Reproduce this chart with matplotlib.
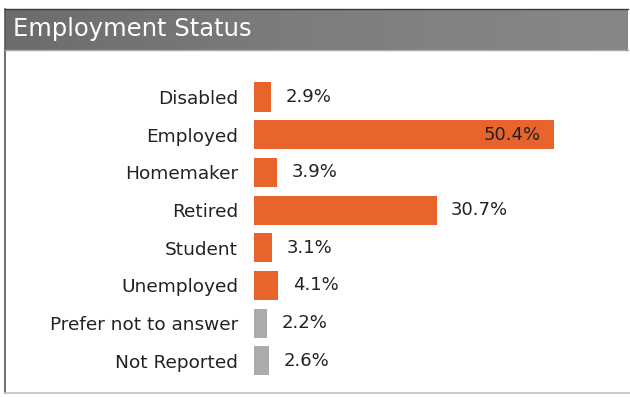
import numpy as np
import matplotlib
matplotlib.use("Agg")
import matplotlib.pyplot as plt
from matplotlib.lines import Line2D

categories = ["Disabled", "Employed", "Homemaker", "Retired", "Student",
              "Unemployed", "Prefer not to answer", "Not Reported"]
percentages = [2.9, 50.4, 3.9, 30.7, 3.1, 4.1, 2.2, 2.6]
reported = [True, True, True, True, True, True, False, False]
title = "Employment Status"

ORANGE = "#E8642C"
GRAY = "#ABABAB"
TEXT = "#222222"

W, H = 630, 397
fig = plt.figure(figsize=(W / 100, H / 100), dpi=100)
fig.patch.set_facecolor("white")


def fx(px):
    return px / W


def fy(py):
    return 1 - py / H


# Panel header with a soft horizontal gradient
hdr = fig.add_axes([fx(5), fy(50), fx(623), (50 - 9) / H])
grad = np.linspace(0, 1, 256)
grad = np.vstack([grad, grad])
cmap = matplotlib.colors.LinearSegmentedColormap.from_list(
    "hdr", ["#6c6c6c", "#7e7e7e", "#878787"])
hdr.imshow(grad, aspect="auto", cmap=cmap, extent=[0, 1, 0, 1])
hdr.set_axis_off()
fig.text(fx(13), fy(29), title, color="white", fontsize=17.5,
         va="center", ha="left", family="DejaVu Sans")

# Panel border
fig.add_artist(Line2D([fx(5), fx(5)], [fy(9), fy(393)], color="#555555", lw=1.2))
fig.add_artist(Line2D([fx(5), fx(630)], [fy(393), fy(393)], color="#c4c4c4", lw=1.2))
fig.add_artist(Line2D([fx(5), fx(628)], [fy(9), fy(9)], color="#3a3a3a", lw=1.0))
fig.add_artist(Line2D([fx(5), fx(628)], [fy(50), fy(50)], color="#a8a8a8", lw=1.0))

# Bar chart
spacing = 37.7
top = 97 - spacing / 2
bottom = top + spacing * len(categories)
ax = fig.add_axes([fx(254), fy(bottom), fx(357), (bottom - top) / H])
y = np.arange(len(categories))
colors = [ORANGE if r else GRAY for r in reported]
ax.barh(y, percentages, height=0.77, color=colors, align="center")
ax.set_xlim(0, 60)
ax.set_ylim(len(categories) - 0.5, -0.5)
ax.set_yticks(y)
ax.set_yticklabels(categories, fontsize=13.3, color=TEXT)
ax.tick_params(axis="y", length=0, pad=11.5)
ax.set_xticks([])
for s in ax.spines.values():
    s.set_visible(False)

vmax = max(percentages)
for yi, v in zip(y, percentages):
    label = f"{v:.1f}%"
    if v == vmax:
        ax.text(v - 2.3, yi, label, ha="right", va="center",
                fontsize=13, color=TEXT)
    else:
        ax.text(v + 2.4, yi, label, ha="left", va="center",
                fontsize=13, color=TEXT)

fig.savefig("out.png", dpi=100)
